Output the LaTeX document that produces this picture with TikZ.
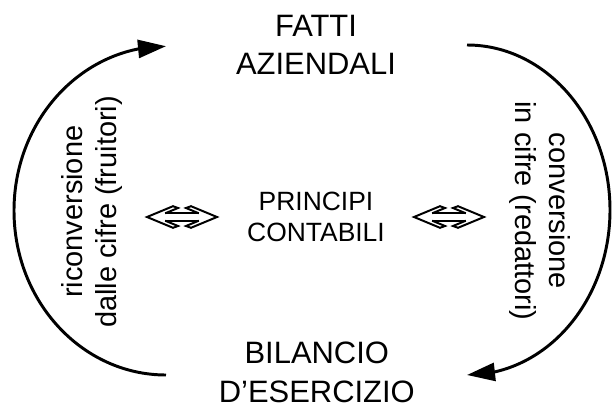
\documentclass[tikz,border=0pt]{standalone}
\usepackage{fontspec}
\setmainfont{Liberation Sans}
\usetikzlibrary{arrows.meta,bending}

% hollow double arrow between the texts
\newcommand{\dblarrow}[1]{%
  \begin{scope}[shift={#1}, line width=1.4pt]
    \draw (-0.42,0.0925) -- (0.42,0.0925);
    \draw (-0.42,-0.0925) -- (0.42,-0.0925);
    \draw (-0.42,0.0925) -- (-0.1,0.225) -- (-0.225,0.27) -- (-0.875,0)
          -- (-0.225,-0.27) -- (-0.1,-0.225) -- (-0.42,-0.0925);
    \draw (0.42,0.0925) -- (0.1,0.225) -- (0.225,0.27) -- (0.875,0)
          -- (0.225,-0.27) -- (0.1,-0.225) -- (0.42,-0.0925);
  \end{scope}}

\begin{document}
\begin{tikzpicture}[
    bigtext/.style={font=\fontsize{22}{27.5}\selectfont, align=center, inner sep=0pt},
    midtext/.style={font=\fontsize{18.8}{22}\selectfont, align=center, inner sep=0pt},
    sidetext/.style={font=\fontsize{20.6}{24.8}\selectfont, align=center, inner sep=0pt},
    cycle/.style={line width=2.1pt, -{Triangle[length=0.7cm, width=0.45cm]}}
]
\useasboundingbox (0,0) rectangle (15.325,10.175);

% =========================
% Main texts
% =========================
\node[bigtext] (fatti) at (7.9,9.05) {FATTI\\AZIENDALI};
\node[bigtext] (bilancio) at (7.92,0.86) {BILANCIO\\D’ESERCIZIO};
\node[midtext] (principi) at (7.9,4.75) {PRINCIPI\\CONTABILI};

% Side labels
\node[sidetext, rotate=90] (riconv) at (2.3,4.88)
    {riconversione\\dalle cifre (fruitori)};
\node[sidetext, rotate=-90] (conv) at (13.5,4.9)
    {conversione\\in cifre (redattori)};

% =========================
% Cycle arcs
% =========================
\coordinate (lbot) at (4.15,0.8);
\coordinate (rtop) at (11.675,9.05);

% Left: back to the facts
\draw[cycle] (lbot) arc[start angle=270, end angle=90, x radius=3.8, y radius=4.11];

% Right: down to the balance sheet
\draw[cycle] (rtop) arc[start angle=90, end angle=-90, x radius=3.575, y radius=4.125];

% Double arrows
\dblarrow{(4.55,4.75)}
\dblarrow{(11.225,4.75)}

\end{tikzpicture}
\end{document}
